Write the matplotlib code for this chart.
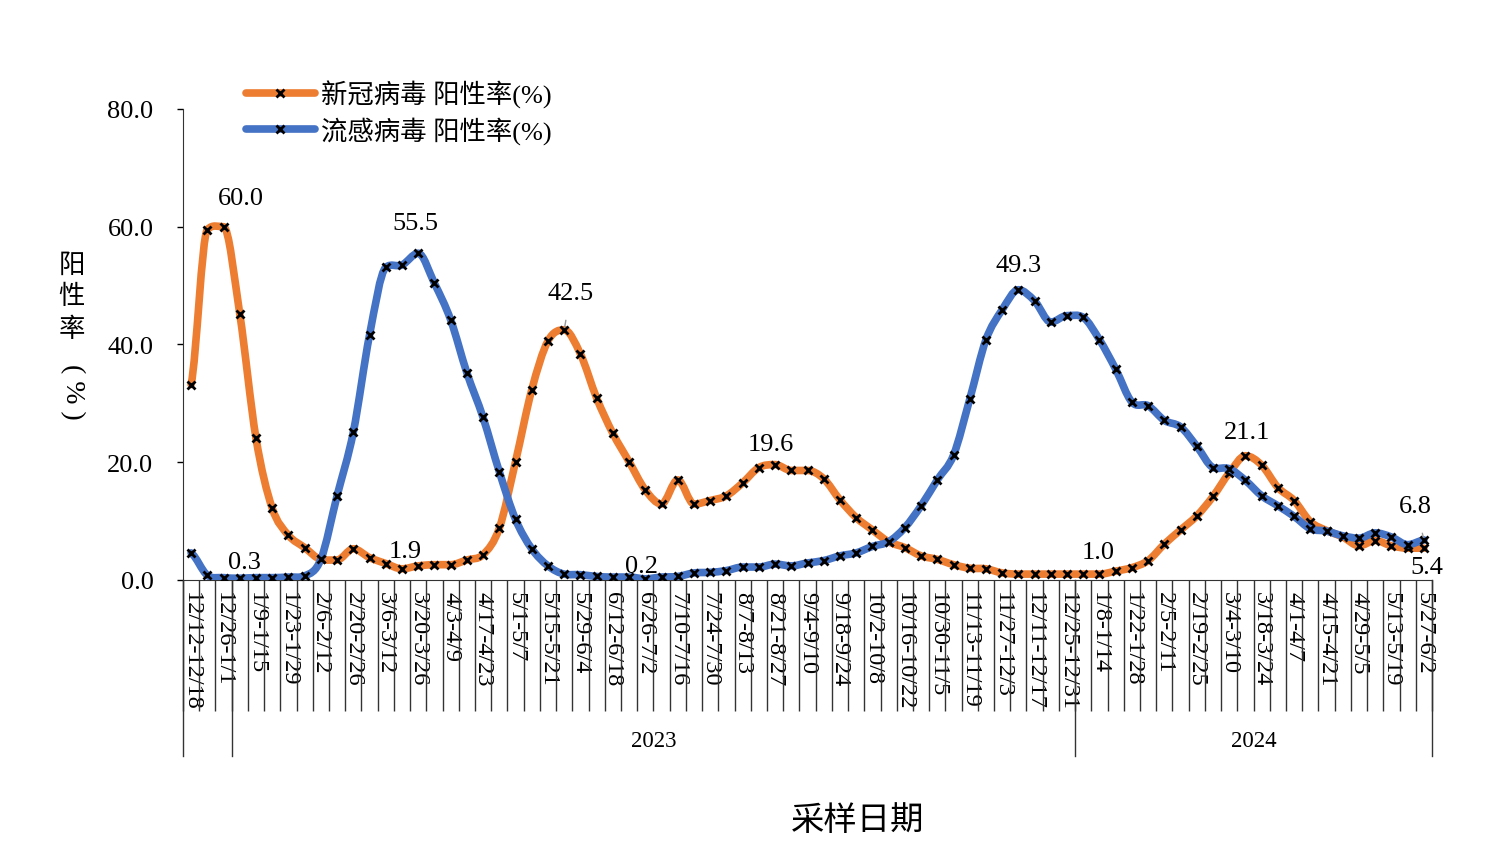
import numpy as np
import matplotlib
matplotlib.use("Agg")
from matplotlib import pyplot as plt
from matplotlib.path import Path
from matplotlib.patches import PathPatch
from matplotlib.lines import Line2D
import matplotlib.transforms as mtransforms

plt.rcParams['font.family'] = ['Liberation Serif', 'Noto Sans CJK SC', 'DejaVu Sans']

# weekly positivity rates, 12/12-12/18 (2022) to 5/27-6/2 (2024), 77 weeks
covid = [33.2, 59.5, 60.0, 45.2, 24.1, 12.2, 7.6, 5.5, 3.5, 3.4,
         5.3, 3.8, 2.8, 1.9, 2.4, 2.6, 2.6, 3.4, 4.3, 8.8,
         20.1, 32.3, 40.6, 42.5, 38.4, 30.9, 24.9, 20.1, 15.3, 12.9,
         17.0, 12.9, 13.5, 14.3, 16.5, 19.1, 19.6, 18.6, 18.6, 17.2,
         13.6, 10.6, 8.5, 6.5, 5.5, 4.1, 3.5, 2.6, 2.0, 1.9,
         1.2, 1.0, 1.0, 1.0, 1.0, 1.0, 1.0, 1.5, 2.1, 3.3,
         6.1, 8.5, 10.9, 14.2, 18.2, 21.1, 19.5, 15.7, 13.5, 9.9,
         8.4, 7.3, 5.8, 6.7, 5.8, 5.4, 5.4]
flu = [4.6, 0.8, 0.4, 0.3, 0.4, 0.4, 0.5, 0.7, 3.5, 14.3,
       25.1, 41.6, 53.1, 53.5, 55.5, 50.4, 44.2, 35.2, 27.6, 18.4,
       10.3, 5.3, 2.4, 1.0, 0.9, 0.6, 0.5, 0.5, 0.2, 0.5,
       0.6, 1.2, 1.3, 1.6, 2.2, 2.2, 2.7, 2.4, 2.9, 3.3,
       4.1, 4.6, 5.7, 6.5, 8.9, 12.6, 17.0, 21.2, 30.7, 40.8,
       45.9, 49.3, 47.4, 43.8, 44.9, 44.6, 40.8, 35.8, 30.2, 29.6,
       27.1, 26.0, 22.7, 19.1, 18.9, 16.9, 14.3, 12.6, 10.8, 8.7,
       8.3, 7.5, 7.1, 8.0, 7.3, 6.0, 6.8]

# every other week is labelled
week_labels = ["12/12-12/18", "12/26-1/1", "1/9-1/15", "1/23-1/29", "2/6-2/12",
               "2/20-2/26", "3/6-3/12", "3/20-3/26", "4/3-4/9", "4/17-4/23",
               "5/1-5/7", "5/15-5/21", "5/29-6/4", "6/12-6/18", "6/26-7/2",
               "7/10-7/16", "7/24-7/30", "8/7-8/13", "8/21-8/27", "9/4-9/10",
               "9/18-9/24", "10/2-10/8", "10/16-10/22", "10/30-11/5", "11/13-11/19",
               "11/27-12/3", "12/11-12/17", "12/25-12/31", "1/8-1/14", "1/22-1/28",
               "2/5-2/11", "2/19-2/25", "3/4-3/10", "3/18-3/24", "4/1-4/7",
               "4/15-4/21", "4/29-5/5", "5/13-5/19", "5/27-6/2"]
# year groups: (label, number of weeks)
year_groups = [("", 3), ("2023", 52), ("2024", 22)]

covid_name = "新冠病毒 阳性率(%)"
flu_name = "流感病毒 阳性率(%)"
orange = "#ED7D31"
blue = "#4472C4"


def smooth_path(x, y):
    # cubic bezier through the points, catmull-rom tangents, flattened at extrema
    n = len(y)
    d = np.diff(y)
    m = np.zeros(n)
    for i in range(n):
        if i == 0:
            m[i] = d[0] * 0.5
        elif i == n - 1:
            m[i] = d[-1] * 0.5
        else:
            if d[i - 1] * d[i] <= 0:
                m[i] = 0.0
            else:
                t = (y[i + 1] - y[i - 1]) / 2.0
                m[i] = np.sign(t) * min(abs(t), 6 * abs(d[i - 1]), 6 * abs(d[i]))
    verts = [(x[0], y[0])]
    codes = [Path.MOVETO]
    for i in range(n - 1):
        verts += [(x[i] + 1 / 3.0, y[i] + m[i] / 3.0),
                  (x[i + 1] - 1 / 3.0, y[i + 1] - m[i + 1] / 3.0),
                  (x[i + 1], y[i + 1])]
        codes += [Path.CURVE4] * 3
    return Path(verts, codes)


fig = plt.figure(figsize=(14.9, 8.62), dpi=100)
ax = fig.add_axes([0.1228, 0.326, 0.8383, 0.5464])

n = len(covid)
xs = np.arange(n)

for vals, col, z in [(covid, orange, 2), (flu, blue, 3)]:
    ax.add_patch(PathPatch(smooth_path(xs, np.array(vals, dtype=float)), fill=False,
                           edgecolor=col, lw=5.5, capstyle='round', joinstyle='round', zorder=z))
    ax.plot(xs, vals, ls='none', marker='x', ms=6, mew=2, mec='black', zorder=z + 0.5)

ax.set_xlim(-0.5, n - 0.5)
ax.set_ylim(0, 80)
ax.set_yticks([0, 20, 40, 60, 80])
ax.set_yticklabels(["%.1f" % v for v in [0, 20, 40, 60, 80]], fontsize=19)
ax.tick_params(axis='y', length=4.3, width=1, pad=17)

for s in ['top', 'right']:
    ax.spines[s].set_visible(False)
for s in ['left', 'bottom']:
    ax.spines[s].set_color('#333333')

# category labels and boundary ticks
ax.set_xticks(xs[::2])
ax.set_xticklabels(week_labels, rotation=-90, fontsize=17.5, va='top', ha='center')
ax.set_xticks(np.arange(n + 1) - 0.5, minor=True)
ax.tick_params(axis='x', which='major', length=0, pad=8)
ax.tick_params(axis='x', which='minor', length=94, width=1, color='#333333')

trans = mtransforms.blended_transform_factory(ax.transData, ax.transAxes)
start = -0.5
for name, count in year_groups:
    ax.plot([start, start], [0, -0.374], color='#333333', lw=1, transform=trans, clip_on=False)
    if name:
        ax.text(start + count / 2.0, -0.34, name, transform=trans, ha='center', va='center', fontsize=16.5)
    start += count
ax.plot([start, start], [0, -0.374], color='#333333', lw=1, transform=trans, clip_on=False)

# data labels: (series, index, dx, dy in points)
labels = [(covid, 2, 12.6, 20.7), (flu, 3, 3.6, 12), (flu, 14, -1.7, 21.6), (covid, 13, 2, 13),
          (covid, 23, 4.7, 26.6), (flu, 28, -2.7, 9.2), (covid, 36, -3.3, 14.8), (flu, 51, 0, 17.8),
          (covid, 56, -1, 15.8), (covid, 65, 1, 17.2), (flu, 76, -5.8, 24.5), (covid, 76, 2, -13.7)]
for ser, i, dx, dy in labels:
    txt = "%.1f" % ser[i]
    if (ser is covid and i == 23) or (ser is flu and i == 76):
        ax.annotate(txt, (i, ser[i]), xytext=(dx, dy), textcoords='offset points',
                    ha='center', va='center', fontsize=19, zorder=6,
                    arrowprops=dict(arrowstyle='-', color='#999999', lw=1, shrinkA=10, shrinkB=2))
    else:
        ax.annotate(txt, (i, ser[i]), xytext=(dx, dy), textcoords='offset points',
                    ha='center', va='center', fontsize=19, zorder=6)

handles = [Line2D([], [], color=orange, lw=5.5, marker='x', ms=6, mew=2, mec='black', solid_capstyle='round'),
           Line2D([], [], color=blue, lw=5.5, marker='x', ms=6, mew=2, mec='black', solid_capstyle='round')]
fig.legend(handles, [covid_name, flu_name], loc='upper left', bbox_to_anchor=(0.158, 0.919),
           frameon=False, fontsize=19, handlelength=2.6, handletextpad=0.26, labelspacing=0.33,
           borderaxespad=0)

for ch, yy in [("阳", 0.6926), ("性", 0.6555), ("率", 0.6172)]:
    fig.text(0.0483, yy, ch, fontsize=19, ha='center', va='center', family=['Noto Sans CJK SC'])
fig.text(0.0483, 0.5452, "( % )", fontsize=20, ha='center', va='center', rotation=-90)
fig.text(0.5758, 0.0487, "采样日期", fontsize=24, ha='center', va='center', family=['Noto Sans CJK SC'])

fig.savefig("out.png", dpi=100)
